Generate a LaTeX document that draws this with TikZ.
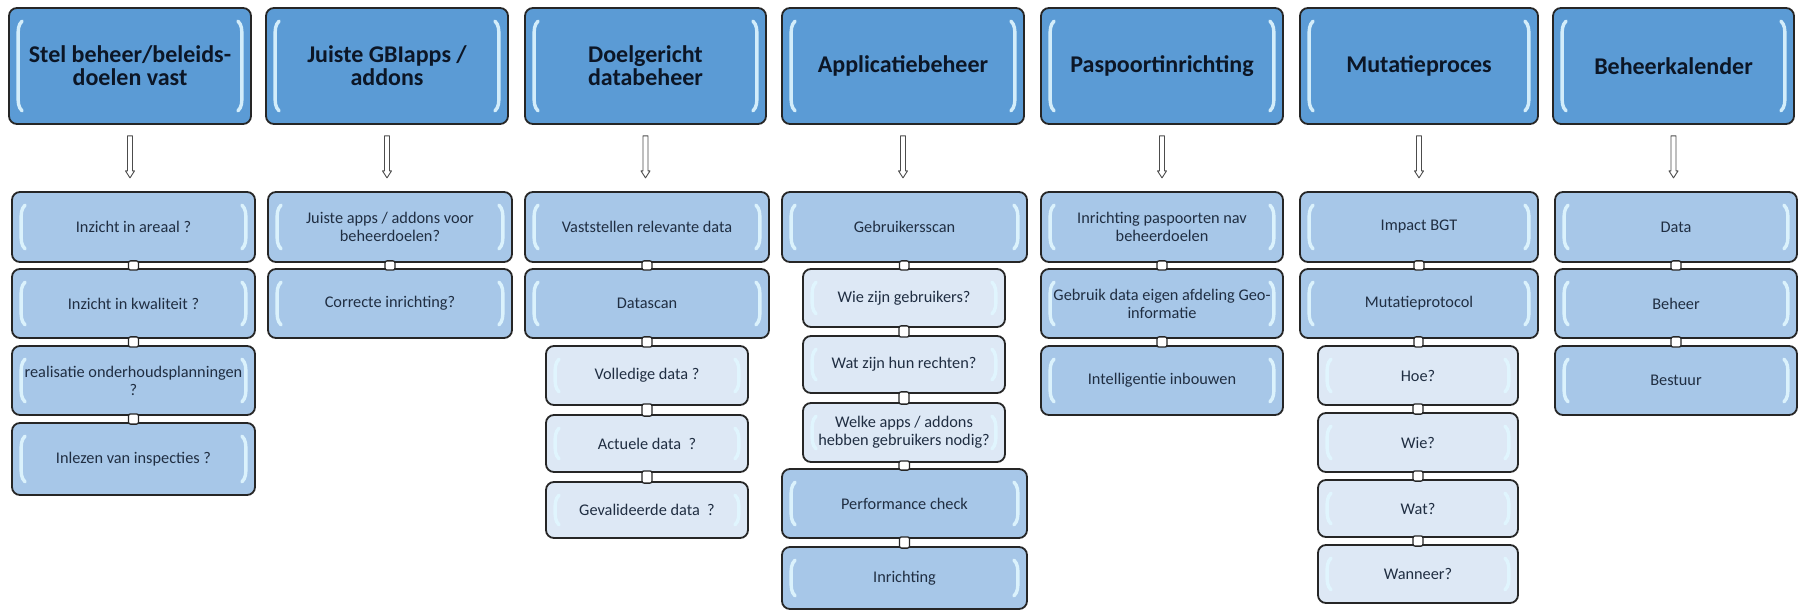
\documentclass[tikz,border=0pt]{standalone}
\usepackage{fontspec}
\setmainfont{Carlito}
\usetikzlibrary{calc}
\definecolor{hdrblue}{RGB}{91,155,213}
\definecolor{subblue}{RGB}{167,199,232}
\definecolor{liteblue}{RGB}{221,232,245}
\definecolor{hdrtxt}{RGB}{12,22,38}
\definecolor{subtxt}{RGB}{32,46,66}
\definecolor{rim}{RGB}{38,38,38}
\definecolor{glow}{RGB}{225,247,255}
\tikzset{
  basebox/.style={draw=rim, line width=1.8pt, rounded corners=8pt, inner sep=0pt, align=center},
  hdr/.style={basebox, fill=hdrblue, text=hdrtxt, font=\bfseries\fontsize{24}{23}\selectfont},
  sub/.style={basebox, fill=subblue, text=subtxt, font=\fontsize{16.3}{18}\selectfont},
  lite/.style={basebox, fill=liteblue, text=subtxt, font=\fontsize{16.3}{18}\selectfont},
  hlbar/.style={draw=glow, line width=3.4pt, line cap=round, opacity=0.9},
  conn/.style={draw=rim, fill=white, line width=1.3pt, rounded corners=2pt},
  harr/.style={draw=black!70, fill=white, line width=0.9pt, line join=round}
}
\newcommand\hlbars[1]{%
  \draw[hlbar] ($(#1.north west)+(14,14)$) .. controls ($(#1.north west)+(10,18)$) and ($(#1.north west)+(10,22)$) .. ($(#1.north west)+(10,30)$)
     -- ($(#1.south west)+(10,-30)$) .. controls ($(#1.south west)+(10,-22)$) and ($(#1.south west)+(10,-18)$) .. ($(#1.south west)+(14,-14)$);
  \draw[hlbar] ($(#1.north east)+(-14,14)$) .. controls ($(#1.north east)+(-10,18)$) and ($(#1.north east)+(-10,22)$) .. ($(#1.north east)+(-10,30)$)
     -- ($(#1.south east)+(-10,-30)$) .. controls ($(#1.south east)+(-10,-22)$) and ($(#1.south east)+(-10,-18)$) .. ($(#1.south east)+(-14,-14)$);}
\newcommand\bx[7]{%
  \node[#1, minimum width={#5-#3}, minimum height={#6-#4}] (#2) at ({(#3+#5)/2},{(#4+#6)/2}) {#7};
  \hlbars{#2}}
\newcommand\cn[2]{%
  \draw[conn] ($(#1.south)+(-5,-2)$) rectangle ($(#2.north)+(5,2)$);}
\begin{document}
\begin{tikzpicture}[x=1pt,y=-1pt]
\useasboundingbox (0,0) rectangle (1800,612);
\fill[white] (0,0) rectangle (1800,612);
% headers
\bx{hdr}{h1}{9}{8}{251}{124}{Stel beheer/beleids-\\doelen vast}
\bx{hdr}{h2}{266}{8}{508}{124}{Juiste GBIapps /\\addons}
\bx{hdr}{h3}{525}{8}{766}{124}{Doelgericht\\databeheer}
\bx{hdr}{h4}{782}{8}{1024}{124}{Applicatiebeheer}
\bx{hdr}{h5}{1041}{8}{1283}{124}{Paspoortinrichting}
\bx{hdr}{h6}{1300}{8}{1538}{124}{Mutatieproces}
\bx{hdr}{h7}{1553}{8}{1794}{124}{Beheerkalender}
% column 1
\bx{sub}{a1}{12}{192}{255}{262}{Inzicht in areaal ?}
\bx{sub}{a2}{12}{269}{255}{338}{Inzicht in kwaliteit ?}
\bx{sub}{a3}{12}{346}{255}{415}{realisatie onderhoudsplanningen\\?}
\bx{sub}{a4}{12}{423}{255}{495}{Inlezen van inspecties ?}
% column 2
\bx{sub}{b1}{268}{192}{512}{262}{Juiste apps / addons voor\\beheerdoelen?}
\bx{sub}{b2}{268}{269}{512}{338}{Correcte inrichting?}
% column 3
\bx{sub}{c1}{525}{192}{769}{262}{Vaststellen relevante data}
\bx{sub}{c2}{525}{269}{769}{338}{Datascan}
\bx{lite}{c3}{546}{346}{748}{405}{Volledige data ?}
\bx{lite}{c4}{546}{415}{748}{472}{Actuele data~~?}
\bx{lite}{c5}{546}{482}{748}{538}{Gevalideerde data~~?}
% column 4
\bx{sub}{d1}{782}{192}{1027}{262}{Gebruikersscan}
\bx{lite}{d2}{803}{269}{1005}{327}{Wie zijn gebruikers?}
\bx{lite}{d3}{803}{336}{1005}{393}{Wat zijn hun rechten?}
\bx{lite}{d4}{803}{403}{1005}{462}{Welke apps / addons\\hebben gebruikers nodig?}
\bx{sub}{d5}{782}{469}{1027}{538}{Performance check}
\bx{sub}{d6}{782}{547}{1027}{609}{Inrichting}
% column 5
\bx{sub}{e1}{1041}{192}{1283}{262}{Inrichting paspoorten nav\\beheerdoelen}
\bx{sub}{e2}{1041}{269}{1283}{338}{Gebruik data eigen afdeling Geo-\\informatie}
\bx{sub}{e3}{1041}{346}{1283}{415}{Intelligentie inbouwen}
% column 6
\bx{sub}{f1}{1300}{192}{1538}{262}{Impact BGT}
\bx{sub}{f2}{1300}{269}{1538}{338}{Mutatieprotocol}
\bx{lite}{f3}{1318}{346}{1518}{405}{Hoe?}
\bx{lite}{f4}{1318}{413}{1518}{472}{Wie?}
\bx{lite}{f5}{1318}{480}{1518}{537}{Wat?}
\bx{lite}{f6}{1318}{545}{1518}{603}{Wanneer?}
% column 7
\bx{sub}{g1}{1555}{192}{1797}{262}{Data}
\bx{sub}{g2}{1555}{269}{1797}{338}{Beheer}
\bx{sub}{g3}{1555}{346}{1797}{415}{Bestuur}
% down arrows
\foreach \h in {h1,h2,h3,h4,h5,h6,h7}{
  \draw[harr] ($(\h.south)+(-2.5,11)$) -- ($(\h.south)+(-2.5,46)$) -- ($(\h.south)+(-4.5,46)$)
    -- ($(\h.south)+(0,53)$) -- ($(\h.south)+(4.5,46)$) -- ($(\h.south)+(2.5,46)$)
    -- ($(\h.south)+(2.5,11)$) -- cycle;
}
% connectors
\cn{a1}{a2}\cn{a2}{a3}\cn{a3}{a4}
\cn{b1}{b2}
\cn{c1}{c2}\cn{c2}{c3}\cn{c3}{c4}\cn{c4}{c5}
\cn{d1}{d2}\cn{d2}{d3}\cn{d3}{d4}\cn{d4}{d5}\cn{d5}{d6}
\cn{e1}{e2}\cn{e2}{e3}
\cn{f1}{f2}\cn{f2}{f3}\cn{f3}{f4}\cn{f4}{f5}\cn{f5}{f6}
\cn{g1}{g2}\cn{g2}{g3}
\end{tikzpicture}
\end{document}
